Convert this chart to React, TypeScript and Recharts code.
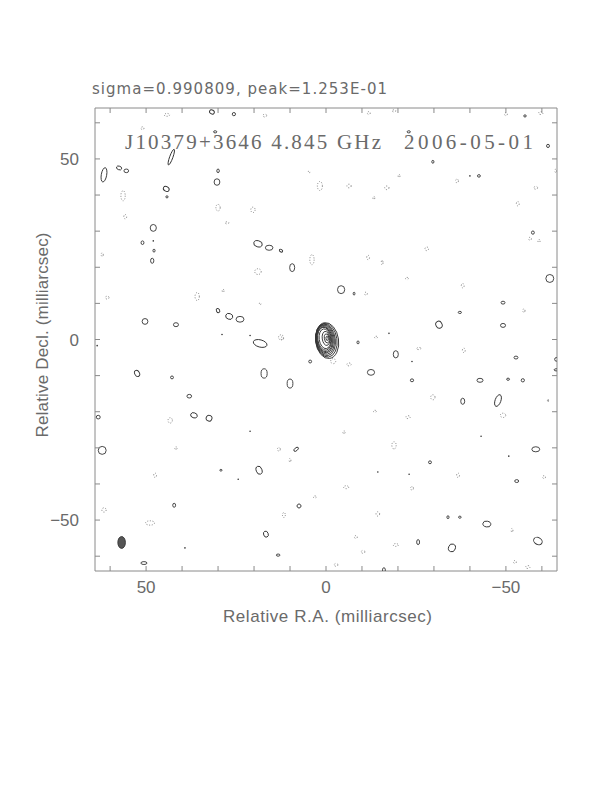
import { ScatterChart, Scatter, XAxis, YAxis, Customized } from "recharts";

// [ra, dec, width, height, tilt]  (mas, deg)
const positiveContours: number[][] = [
  [31.7, 63.0, 1.4, 1.1, 30], [25.6, 62.4, 0.9, 0.9, 0], [30.8, 57.5, 0.9, 0.6, 0],
  [-23.0, 57.5, 0.9, 0.6, 0], [43.0, 50.5, 0.9, 4.6, 20], [61.7, 45.6, 1.5, 4.0, 10],
  [57.5, 47.5, 1.5, 1.0, 20], [55.5, 46.7, 1.3, 1.0, 0], [30.0, 46.7, 0.7, 1.0, 0],
  [30.3, 43.6, 1.6, 1.8, 0], [44.4, 41.7, 1.7, 1.3, 30], [44.2, 39.5, 0.6, 0.6, 0],
  [48.0, 30.9, 1.7, 1.9, 0], [51.0, 26.8, 0.8, 1.0, 0], [47.8, 24.6, 0.6, 0.8, 0],
  [48.3, 21.8, 0.9, 1.4, 0], [18.9, 26.5, 2.4, 1.7, 15], [15.8, 25.4, 2.1, 1.4, 0],
  [12.5, 24.6, 1.0, 0.7, 30], [9.4, 19.9, 1.4, 2.2, 0], [30.0, 8.0, 0.9, 1.2, -30],
  [26.9, 6.4, 2.0, 1.6, 20], [23.9, 5.6, 2.2, 1.6, 0], [50.3, 5.0, 1.6, 1.6, 0],
  [41.7, 4.1, 1.4, 1.1, 0],
  [18.3, -1.1, 3.9, 2.0, 15], [4.4, -6.1, 0.8, 0.8, 0], [52.5, -9.4, 1.3, 1.8, -30],
  [42.8, -10.5, 0.8, 0.8, 0], [17.2, -9.4, 1.7, 2.6, 0], [10.0, -12.2, 1.6, 2.5, 0],
  [38.0, -15.7, 1.3, 1.0, 0], [36.7, -21.0, 1.9, 1.4, 20], [32.5, -21.8, 1.6, 1.6, 30],
  [63.3, -21.5, 1.1, 1.0, 0], [62.2, -30.7, 2.2, 2.2, 0], [8.3, -30.4, 1.5, 0.8, -40],
  [18.6, -36.2, 1.6, 2.3, -20], [29.2, -36.2, 0.6, 0.5, 0], [42.2, -45.9, 0.8, 1.1, 0],
  [7.5, -46.1, 1.1, 1.1, 45], [16.7, -53.9, 1.3, 1.7, -20], [13.3, -59.7, 1.0, 0.6, 0],
  [50.6, -61.9, 1.7, 0.8, 0],
  [-55.3, 61.9, 0.7, 0.6, 0], [-61.7, 53.6, 0.8, 0.9, 0], [-29.7, 49.2, 0.6, 0.8, 0],
  [-42.5, 45.3, 0.8, 0.7, 0], [-57.5, 29.6, 0.8, 0.9, 0], [-62.2, 16.9, 2.2, 2.2, 0],
  [-4.2, 13.8, 2.0, 2.2, 0], [-7.8, 12.7, 0.5, 0.8, 0], [-49.2, 10.2, 1.1, 0.8, 0],
  [-37.2, 7.5, 0.9, 0.6, 0], [-31.4, 4.1, 1.7, 2.0, -30], [-49.2, 3.9, 1.4, 1.1, 0],
  [-8.9, -0.8, 0.6, 0.8, 0], [-19.4, -4.1, 1.4, 2.0, 0], [-52.8, -5.0, 1.1, 0.8, 0],
  [-12.5, -9.1, 2.0, 1.6, 0], [-23.9, -11.3, 0.9, 0.8, 0], [-42.8, -11.3, 1.7, 1.1, 0],
  [-50.6, -11.0, 0.8, 0.6, 0], [-54.7, -11.3, 0.9, 0.9, 0], [-64.0, -5.5, 0.9, 1.0, 0],
  [-64.0, -8.4, 1.2, 0.6, 0], [-38.0, -17.1, 1.1, 1.7, 0], [-47.8, -16.9, 1.6, 3.4, 20],
  [-58.3, -30.4, 2.2, 1.4, 0], [-28.9, -34.0, 0.8, 0.8, 0], [-53.0, -39.2, 1.1, 0.8, 0],
  [-33.9, -49.2, 0.6, 0.8, 0], [-37.2, -49.2, 0.7, 0.6, 0], [-44.7, -51.1, 2.2, 1.6, 10],
  [-25.6, -56.1, 0.8, 1.4, 0], [-35.0, -57.7, 1.9, 2.2, 20], [-58.9, -55.8, 2.5, 1.9, 30],
  [-16.1, -63.8, 0.8, 1.2, 0],
];

// [ra, dec, width, height]
const negativeContours: number[][] = [
  [44.2, 62.2, 1.5, 0.8], [17.0, 62.0, 1.0, 0.8], [51.0, 58.5, 0.8, 0.8],
  [56.4, 39.8, 1.2, 2.8], [55.8, 34.0, 0.8, 1.2], [30.0, 36.5, 1.2, 1.8],
  [20.3, 35.9, 1.2, 1.5], [27.5, 32.3, 1.0, 0.6], [4.7, 46.4, 0.5, 0.5],
  [1.7, 42.5, 1.4, 2.5], [62.2, 23.5, 0.6, 1.0], [3.9, 22.1, 1.2, 2.8],
  [18.9, 18.8, 1.8, 1.6], [35.8, 11.9, 1.2, 2.2], [28.6, 13.5, 0.5, 0.8],
  [60.8, 11.6, 1.0, 0.8], [18.3, 9.9, 0.5, 0.5], [12.5, 0.6, 1.4, 1.4],
  [-11.9, 62.7, 0.8, 0.8], [-18.9, 63.3, 1.0, 0.6], [-50.0, 62.4, 0.8, 0.8],
  [-59.7, 62.7, 1.2, 0.8], [-63.9, 46.7, 0.6, 1.0], [-6.4, 42.5, 1.2, 1.0],
  [-16.9, 42.0, 1.2, 1.0], [-20.3, 45.3, 0.5, 0.8], [-36.4, 43.9, 0.8, 1.0],
  [-58.3, 42.0, 1.0, 0.8], [-13.3, 39.2, 0.5, 0.8], [-53.3, 37.6, 0.8, 1.2],
  [-28.0, 25.1, 1.0, 1.0], [-11.7, 22.7, 0.8, 1.2], [-15.6, 21.3, 0.5, 1.2],
  [-22.5, 16.9, 0.8, 0.6], [-38.0, 14.9, 0.8, 1.2], [-11.1, 12.7, 0.8, 0.8],
  [-55.0, 8.0, 0.6, 1.0], [-56.7, 27.9, 0.8, 0.8], [-59.2, 27.3, 0.6, 0.8],
  [-13.9, 0.6, 0.8, 0.6], [12.2, 0.3, 0.8, 0.8], [43.3, -22.4, 1.2, 1.5],
  [41.7, -30.1, 0.6, 0.8], [47.5, -37.6, 0.8, 1.2], [13.1, -30.4, 0.8, 1.0],
  [10.0, -33.4, 0.5, 1.0], [3.1, -43.6, 0.8, 0.6], [61.7, -47.2, 1.2, 1.2],
  [48.9, -50.8, 2.5, 1.2], [11.7, -48.6, 0.8, 1.4], [-25.8, -2.5, 1.2, 0.6],
  [-38.3, -3.0, 0.8, 1.2], [-6.4, -6.9, 1.2, 0.8], [-2.0, -6.0, 1.4, 1.4],
  [-29.7, -16.0, 1.2, 1.4], [-13.6, -19.9, 0.8, 0.6], [-22.8, -21.5, 1.2, 0.8],
  [-49.2, -21.0, 1.5, 1.2], [-61.7, -16.9, 0.3, 0.8], [-5.0, -25.7, 0.6, 0.8],
  [-18.9, -29.3, 1.2, 2.0], [-36.7, -37.6, 0.8, 1.2], [-23.9, -41.2, 0.8, 1.0],
  [-5.6, -40.9, 1.4, 0.8], [-60.6, -38.1, 0.8, 0.8], [-14.4, -48.3, 1.0, 1.2],
  [-51.7, -52.8, 0.5, 1.0], [-8.3, -54.7, 0.8, 0.8], [-19.4, -56.9, 1.4, 0.8],
  [-10.3, -58.8, 1.0, 0.8], [-2.8, -62.4, 1.0, 0.8], [-52.5, -61.6, 0.8, 0.8],
  [-56.1, -63.0, 1.2, 0.8],
];

// single-pixel specks [ra, dec]
const specks: number[][] = [
  [48.0, 27.3], [28.9, 1.4], [21.1, 1.1], [24.4, -38.7], [21.1, -25.4], [-40.0, 45.3],
  [-17.5, 1.7], [-23.9, -6.1], [-23.1, -37.3], [-14.4, -36.7], [-43.1, -26.8],
  [-50.8, -32.3], [63.6, -1.7], [39.2, -57.7],
];

// core component, nested levels [dRa, dDec, width, height]
const coreLevels: number[][] = [
  [-0.3, -0.3, 6.4, 10.0], [-0.1, -0.2, 5.9, 9.4], [0.1, -0.1, 5.4, 8.8],
  [0.2, 0.0, 5.0, 8.2], [0.3, 0.1, 4.6, 7.6], [0.35, 0.1, 4.2, 7.0],
  [0.4, 0.2, 3.8, 6.4], [0.3, 0.2, 3.2, 5.5], [0.0, 0.3, 2.1, 3.9],
  [-0.2, 0.3, 1.3, 2.5], [-0.3, 0.3, 0.6, 1.2],
];

const beam = [{ ra: 56.8, dec: -56.2, w: 2.1, h: 3.3 }];

const tickValues = [-60, -50, -40, -30, -20, -10, 0, 10, 20, 30, 40, 50, 60];
const labelValues = [-50, 0, 50];

const W = 596;
const H = 640;
const AX = 20; // axis band size
const M = { top: 100 - AX, left: 87 - AX, right: 47 - AX, bottom: 77 - AX };
const X_LIM = 64.2;
const Y_LIM = 64.1;
const KX = (W - 87 - 47) / (2 * X_LIM);
const KY = (H - 100 - 77) / (2 * Y_LIM);

const AXIS = "#8a8a8a";
const INK = "#333";
const TEXT = "#6a6a6a";
const SANS = "'Liberation Sans', Arial, sans-serif";

const fmt = (v: number) => (v < 0 ? `\u2212${-v}` : `${v}`);

const posData = positiveContours.map(([ra, dec, w, h, a]) => ({ ra, dec, w, h, a }));
const negData = negativeContours.map(([ra, dec, w, h]) => ({ ra, dec, w, h, a: 0 }));
const speckData = specks.map(([ra, dec]) => ({ ra, dec }));
const coreData = coreLevels.map(([ra, dec, w, h]) => ({ ra, dec, w, h, a: -8 }));
const beamData = beam.map((b) => ({ ...b, a: 0 }));

const ellipse = (stroke: string, dash?: string, fill = "none") => (p: any) => {
  const { cx, cy, payload } = p;
  if (cx == null || cy == null) return <g />;
  return (
    <ellipse
      cx={cx}
      cy={cy}
      rx={(payload.w * KX) / 2}
      ry={(payload.h * KY) / 2}
      transform={`rotate(${payload.a || 0} ${cx} ${cy})`}
      fill={fill}
      stroke={stroke}
      strokeWidth={0.9}
      strokeDasharray={dash}
    />
  );
};

const speck = (p: any) =>
  p.cx == null ? <g /> : <circle cx={p.cx} cy={p.cy} r={0.8} fill={INK} />;

const tickText = (x: number, y: number, v: number, anchor: "middle" | "end") => (
  <text x={x} y={y} textAnchor={anchor} fontFamily={SANS} fontSize={17} fill={TEXT}>
    {fmt(v)}
  </text>
);

// with tickSize=0 and tickMargin=0 the tick anchor sits on the axis line
const BottomTick = (p: any) => (
  <g>
    <line x1={p.x} x2={p.x} y1={p.y} y2={p.y - 5} stroke={AXIS} />
    {labelValues.includes(p.payload.value) && tickText(p.x, p.y + 22, p.payload.value, "middle")}
  </g>
);
const TopTick = (p: any) => <line x1={p.x} x2={p.x} y1={p.y} y2={p.y + 5} stroke={AXIS} />;
const LeftTick = (p: any) => (
  <g>
    <line x1={p.x} x2={p.x + 5} y1={p.y} y2={p.y} stroke={AXIS} />
    {labelValues.includes(p.payload.value) && tickText(p.x - 16, p.y + 6, p.payload.value, "end")}
  </g>
);
const RightTick = (p: any) => <line x1={p.x} x2={p.x - 5} y1={p.y} y2={p.y} stroke={AXIS} />;

const Titles = () => (
  <g fill={TEXT}>
    <text x={84} y={86} fontFamily="'DejaVu Sans', sans-serif" fontSize={15} textLength={295} lengthAdjust="spacing">
      sigma=0.990809, peak=1.253E-01
    </text>
    <text x={117} y={141} fontFamily="'Liberation Serif', serif" fontSize={21} textLength={256} lengthAdjust="spacing">
      J10379+3646 4.845 GHz
    </text>
    <text x={396} y={141} fontFamily="'Liberation Serif', serif" fontSize={21} textLength={129} lengthAdjust="spacing">
      2006-05-01
    </text>
    <text x={215} y={614} fontFamily={SANS} fontSize={17} textLength={209} lengthAdjust="spacing">
      Relative R.A. (milliarcsec)
    </text>
    <text
      x={40}
      y={327}
      transform="rotate(-90 40 327)"
      textAnchor="middle"
      fontFamily={SANS}
      fontSize={17}
      textLength={205}
      lengthAdjust="spacing"
    >
      Relative Decl. (milliarcsec)
    </text>
  </g>
);

const xCommon = {
  type: "number" as const,
  dataKey: "ra",
  domain: [-X_LIM, X_LIM],
  reversed: true,
  allowDataOverflow: true,
  ticks: tickValues,
  interval: 0 as const,
  height: AX,
  tickSize: 0,
  tickMargin: 0,
  tickLine: false,
  axisLine: { stroke: AXIS },
};
const yCommon = {
  type: "number" as const,
  dataKey: "dec",
  domain: [-Y_LIM, Y_LIM],
  allowDataOverflow: true,
  ticks: tickValues,
  interval: 0 as const,
  width: AX,
  tickSize: 0,
  tickMargin: 0,
  tickLine: false,
  axisLine: { stroke: AXIS },
};

export default function App() {
  return (
    <ScatterChart width={W} height={H} margin={M}>
      <XAxis xAxisId="b" orientation="bottom" {...xCommon} tick={(p: any) => <BottomTick {...p} />} />
      <XAxis xAxisId="t" orientation="top" {...xCommon} tick={(p: any) => <TopTick {...p} />} />
      <YAxis yAxisId="l" orientation="left" {...yCommon} tick={(p: any) => <LeftTick {...p} />} />
      <YAxis yAxisId="r" orientation="right" {...yCommon} tick={(p: any) => <RightTick {...p} />} />
      <Scatter xAxisId="b" yAxisId="l" data={negData} shape={ellipse("#777", "1 1.6")} isAnimationActive={false} />
      <Scatter xAxisId="b" yAxisId="l" data={posData} shape={ellipse(INK)} isAnimationActive={false} />
      <Scatter xAxisId="b" yAxisId="l" data={speckData} shape={speck} isAnimationActive={false} />
      <Scatter xAxisId="b" yAxisId="l" data={coreData} shape={ellipse(INK)} isAnimationActive={false} />
      <Scatter xAxisId="b" yAxisId="l" data={beamData} shape={ellipse("#333", undefined, "#555")} isAnimationActive={false} />
      <Customized component={Titles} />
    </ScatterChart>
  );
}
